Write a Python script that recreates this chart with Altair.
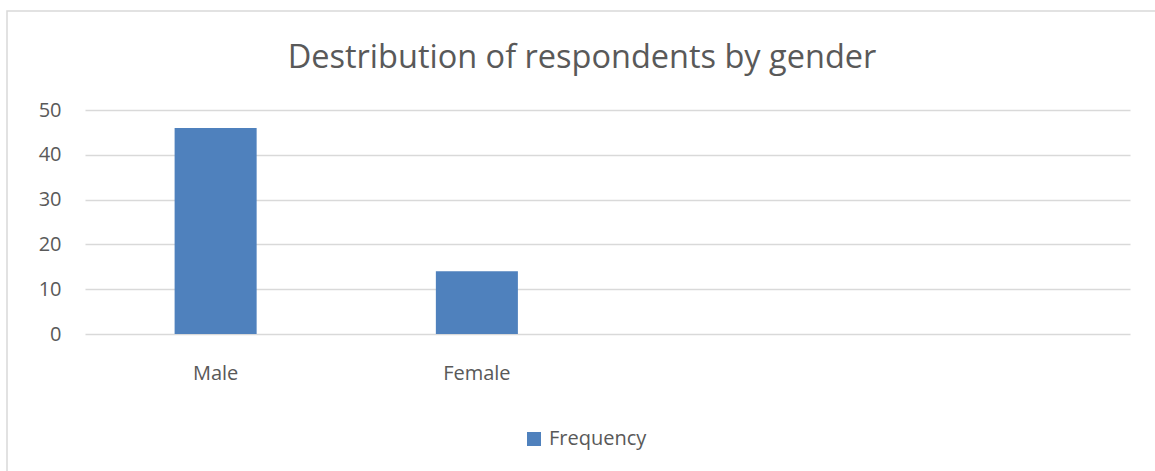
import altair as alt
import pandas as pd

categories = ["Male", "Female", " ", "  "]
frequency = [46, 14, None, None]
y_ticks = [0, 10, 20, 30, 40, 50]
title_text = "Destribution of respondents by gender"
series_name = "Frequency"

df = pd.DataFrame({
    "Gender": categories,
    "Value": frequency,
    "Series": [series_name] * len(categories),
})

FONT = "Open Sans"
TXT = "#595959"
GRID = "#d9d9d9"

bars = alt.Chart(df).mark_bar(color="#4f81bd").encode(
    x=alt.X(
        "Gender:N",
        sort=categories,
        scale=alt.Scale(domain=categories, paddingInner=0.686, paddingOuter=0.343),
        axis=alt.Axis(title=None, labelAngle=0, domain=False, ticks=False, grid=False,
                      labelFont=FONT, labelFontSize=20, labelColor=TXT, labelPadding=29),
    ),
    y=alt.Y(
        "Value:Q",
        scale=alt.Scale(domain=[0, 50], nice=False),
        axis=alt.Axis(title=None, values=y_ticks, domain=False, ticks=False, grid=True,
                      gridColor=GRID, gridWidth=1.5, labelFont=FONT, labelFontSize=20,
                      labelColor=TXT, labelPadding=24),
    ),
    color=alt.Color(
        "Series:N",
        scale=alt.Scale(range=["#4f81bd"]),
        legend=alt.Legend(orient="none", legendX=439, legendY=319, title=None,
                          symbolType="square", symbolSize=196, symbolStrokeWidth=0,
                          labelFont=FONT, labelFontSize=20, labelColor=TXT, labelOffset=5),
    ),
)

frame = alt.Chart(pd.DataFrame({"a": [0]})).mark_rect(
    fillOpacity=0, stroke=GRID, strokeWidth=1.5
).encode(
    x=alt.value(-78), x2=alt.value(1100), y=alt.value(-99), y2=alt.value(420)
)

title = alt.Chart(pd.DataFrame({"t": [title_text]})).mark_text(
    font=FONT, fontSize=32.5, color=TXT, align="center", baseline="alphabetic"
).encode(
    text="t:N", x=alt.value(497), y=alt.value(-42)
)

chart = alt.layer(frame, bars, title).properties(
    width=1045,
    height=224,
    background="white",
    autosize=alt.AutoSizeParams(type="none"),
    padding={"left": 85, "top": 110, "right": 25, "bottom": 137},
).configure_view(stroke=None)

chart.save("out.html", embed_options={"renderer": "svg", "actions": False})
